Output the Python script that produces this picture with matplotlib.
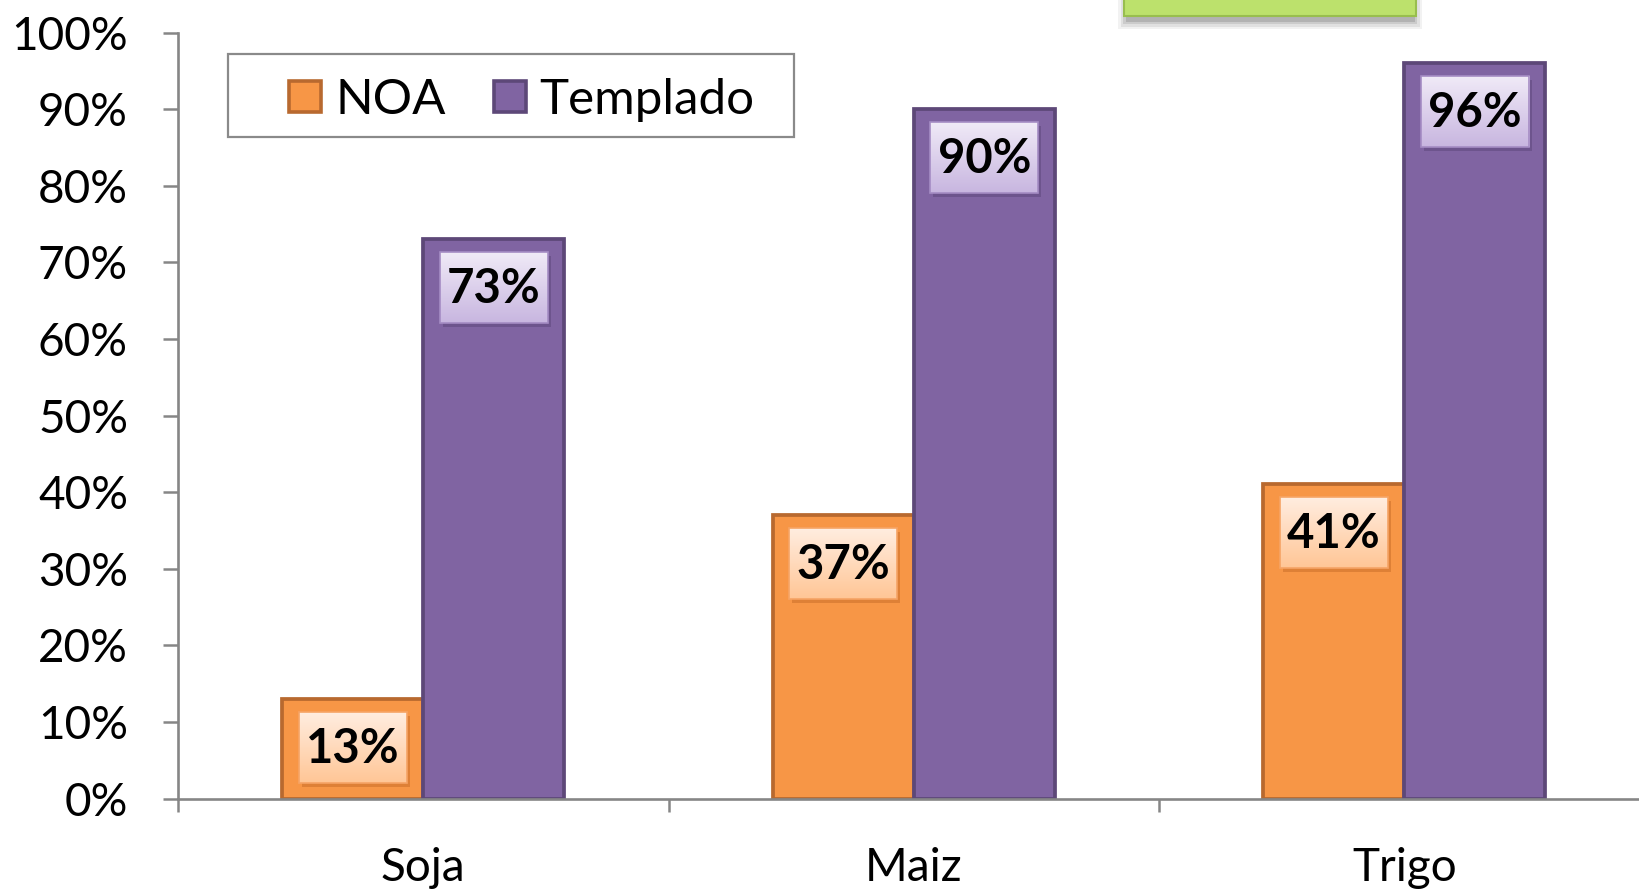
import numpy as np
import matplotlib
matplotlib.use("Agg")
import matplotlib.pyplot as plt
from matplotlib.patches import Rectangle
from matplotlib.colors import LinearSegmentedColormap

# ---- data ----
categories = ["Soja", "Maiz", "Trigo"]
series_names = ["NOA", "Templado"]
noa = [0.13, 0.37, 0.41]
templado = [0.73, 0.90, 0.96]
y_ticks = [0.0, 0.1, 0.2, 0.3, 0.4, 0.5, 0.6, 0.7, 0.8, 0.9, 1.0]

# ---- style ----
fills = ["#F79646", "#8064A2"]
edges = ["#B8692F", "#5D4878"]
label_grad = [("#FFEDE0", "#FFC696"), ("#F0EAF7", "#C8B6E0")]
label_edge = ["#F6A465", "#A58CC4"]
shadow_col = ["#B0581A", "#4A3766"]
FONT = "Lato"
FS = 33
W, H = 1639, 893
DPI = 100

plt.rcParams["font.family"] = [FONT, "DejaVu Sans"]
fig = plt.figure(figsize=(W / DPI, H / DPI), dpi=DPI)
fig.patch.set_facecolor("white")

ax_left, ax_right = 178, 178 + 1471.5
ax_top, ax_bot = 32.5, 798.6
ax = fig.add_axes([ax_left / W, 1 - ax_bot / H, (ax_right - ax_left) / W, (ax_bot - ax_top) / H])

x = np.arange(len(categories))
bw = 0.2875
series = [noa, templado]
offsets = [-bw / 2, bw / 2]
px_x = (ax_right - ax_left) / 3.0   # px per category unit
px_y = (ax_bot - ax_top) / 1.0      # px per unit y

for s, vals in enumerate(series):
    ax.bar(x + offsets[s], vals, width=bw, color=fills[s], edgecolor=edges[s],
           linewidth=2.7, zorder=3)
    cmap = LinearSegmentedColormap.from_list("g%d" % s, [label_grad[s][0], label_grad[s][1]])
    grad = np.linspace(0, 1, 64).reshape(-1, 1)
    for i, v in enumerate(vals):
        xc = x[i] + offsets[s]
        w = 108 / px_x
        h = 71 / px_y
        top = v - 13 / px_y
        # shadow
        ax.add_patch(Rectangle((xc - w / 2 + 3 / px_x, top - h - 4 / px_y), w, h,
                               facecolor=shadow_col[s], alpha=0.35, edgecolor="none", zorder=4))
        ax.imshow(grad, cmap=cmap, extent=[xc - w / 2, xc + w / 2, top - h, top],
                  aspect="auto", origin="upper", zorder=5, interpolation="bilinear")
        ax.add_patch(Rectangle((xc - w / 2, top - h), w, h, facecolor="none",
                               edgecolor=label_edge[s], linewidth=1.2, zorder=6))
        ax.text(xc, top - h / 2 - 1 / px_y, "{:.0%}".format(v), ha="center", va="center",
                fontsize=FS + 1, fontweight="bold", color="black", zorder=7)

ax.set_xlim(-0.5, 2.5)
ax.set_ylim(0, 1)

# axes styling
for side in ["top", "right"]:
    ax.spines[side].set_visible(False)
for side in ["left", "bottom"]:
    ax.spines[side].set_color("#868686")
    ax.spines[side].set_linewidth(1.9)
    ax.spines[side].set_zorder(8)

ax.set_yticks(y_ticks)
ax.set_yticklabels(["{:.0%}".format(t) for t in y_ticks])
ax.tick_params(axis="y", which="major", direction="out", length=11, width=1.8,
               color="#868686", pad=25, labelsize=FS, labelcolor="black")

ax.set_xticks(x)
ax.set_xticklabels(categories)
ax.tick_params(axis="x", which="major", length=0, pad=35, labelsize=FS, labelcolor="black")
ax.set_xticks(np.arange(-0.5, 3.0, 1.0), minor=True)
ax.tick_params(axis="x", which="minor", direction="out", length=9.5, width=1.8, color="#868686")
ax.set_facecolor("none")

# ---- legend (drawn manually to match box geometry) ----
def fx(px):
    return px / W

def fy(py):
    return 1 - py / H

fig.patches.append(Rectangle((fx(228), fy(137)), fx(794 - 228), (137 - 54) / H,
                             transform=fig.transFigure, facecolor="white",
                             edgecolor="#8A8A8A", linewidth=1.6, zorder=10))
handle_x = [289, 494]
text_x = [336, 539]
for s in range(2):
    fig.patches.append(Rectangle((fx(handle_x[s]), fy(112)), 32 / W, 31 / H,
                                 transform=fig.transFigure, facecolor=fills[s],
                                 edgecolor=edges[s], linewidth=2.6, zorder=11))
    fig.text(fx(text_x[s]), fy(100), series_names[s], ha="left", va="center",
             fontsize=FS + 2.5, color="black", zorder=12)

# ---- partial green box at top ----
for k, a in enumerate([0.05, 0.07, 0.09, 0.12]):
    d = 10 - 2.5 * k
    fig.patches.append(Rectangle((fx(1124 - d + 4), fy(17 + d + 2)), (292 + 2 * d - 8) / W, (30 + d) / H,
                                 transform=fig.transFigure, facecolor="#000000",
                                 alpha=a, edgecolor="none", zorder=1))
fig.patches.append(Rectangle((fx(1124), fy(16)), 292 / W, 40 / H,
                             transform=fig.transFigure, facecolor="#BCE16C",
                             edgecolor="#98BE4E", linewidth=1.5, zorder=2))

fig.savefig("out.png", dpi=DPI)
